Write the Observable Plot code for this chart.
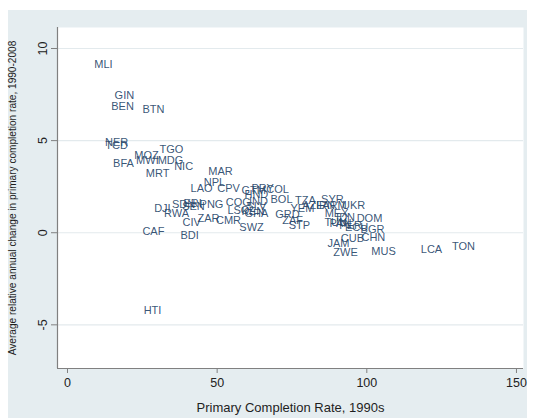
<!DOCTYPE html>
<html>
<head>
<meta charset="utf-8">
<script src="https://cdn.jsdelivr.net/npm/d3@7"></script>
<script src="https://cdn.jsdelivr.net/npm/@observablehq/plot@0.6"></script>
<style>
  html, body { margin: 0; padding: 0; background: #ffffff; }
  #wrap { position: relative; width: 534px; height: 418px; overflow: hidden; }
  #region { position: absolute; left: 8px; top: 10px; width: 519px; height: 408px; background: #e5edf0; }
  #chart { position: absolute; left: 0; top: 0; }
</style>
</head>
<body>
<div id="wrap">
  <div id="region"></div>
  <div id="chart"></div>
</div>
<script>
// Country codes with primary completion rate in the 1990s (x)
// and average relative annual change 1990-2008 (y)
const codes = [
  "MLI","GIN","BEN","BTN","NER","TCD","TGO","MOZ","MWI","MDG",
  "BFA","NIC","MRT","MAR","NPL","LAO","CPV","PRY","COL","GTM",
  "SLV","HND","BOL","COG","IND","LSO","GHA","KEN","SWZ","DJI",
  "RWA","SDN","ERI","SEN","PNG","CIV","ZAR","CMR","BDI","CAF",
  "GRD","ZAF","STP","TZA","YEM","AZE","SYR","IRN","ARM","UKR",
  "MEX","IDN","DOM","TUN","PAN","PER","ECU","BGR","CUB","CHN",
  "JAM","ZWE","MUS","LCA","TON","HTI"
];
const completion1990s = [
  12.0, 19.0, 18.4, 28.7, 16.4, 16.4, 34.7, 26.4, 26.7, 34.4,
  18.7, 38.8, 30.1, 51.1, 49.1, 44.8, 53.8, 65.2, 70.2, 62.2,
  63.1, 63.1, 71.5, 57.1, 63.8, 57.1, 63.1, 61.9, 61.5, 31.7,
  36.4, 38.8, 41.8, 42.1, 48.1, 41.5, 47.1, 53.8, 40.8, 28.7,
  73.5, 75.2, 77.5, 79.5, 78.5, 82.0, 88.5, 86.2, 89.2, 95.6,
  89.9, 92.9, 100.9, 89.6, 91.2, 94.6, 96.6, 101.9, 95.2, 102.2,
  90.5, 92.9, 105.6, 121.6, 132.3, 28.4
];
const annualChange = [
  9.13, 7.45, 6.85, 6.69, 4.90, 4.73, 4.52, 4.19, 3.92, 3.92,
  3.75, 3.59, 3.21, 3.32, 2.73, 2.40, 2.40, 2.40, 2.35, 2.29,
  1.42, 2.07, 1.80, 1.64, 1.69, 1.21, 1.04, 1.15, 0.28, 1.31,
  1.04, 1.53, 1.59, 1.42, 1.53, 0.55, 0.77, 0.66, -0.15, 0.07,
  0.99, 0.66, 0.39, 1.75, 1.31, 1.48, 1.80, 1.46, 1.46, 1.46,
  1.04, 0.83, 0.77, 0.56, 0.50, 0.39, 0.28, 0.17, -0.31, -0.26,
  -0.59, -1.07, -1.02, -0.91, -0.75, -4.23
];
const xTicks = [0, 50, 100, 150];
const yTicks = [-5, 0, 5, 10];
const xTitle = "Primary Completion Rate, 1990s";
const yTitle = "Average relative annual change in primary completion rate, 1990-2008";

const rows = codes.map((c, i) => ({code: c, x: completion1990s[i], y: annualChange[i]}));

const xDomain = [-3.34, 152.35];
const yDomain = [-7.37, 11.14];
const font = "'Liberation Sans', Arial, Helvetica, sans-serif";

const chart = Plot.plot({
  width: 534,
  height: 418,
  marginLeft: 57,
  marginRight: 11,
  marginTop: 27,
  marginBottom: 50,
  style: {background: "transparent", fontFamily: font, color: "#222"},
  x: {domain: xDomain},
  y: {domain: yDomain},
  marks: [
    Plot.frame({fill: "white", stroke: null}),
    Plot.gridY(yTicks, {stroke: "#e3eaed", strokeOpacity: 1, strokeWidth: 1.2}),
    Plot.ruleX([xDomain[0]], {stroke: "#808080", strokeWidth: 1.2}),
    Plot.ruleY([yDomain[0]], {stroke: "#808080", strokeWidth: 1.2}),
    Plot.axisX(xTicks, {tickSize: 5, tickPadding: 5, fontSize: 12.5, stroke: "#808080", fill: "#222", label: null, tickFormat: d => String(d)}),
    Plot.axisY(yTicks, {tickSize: 6, tickPadding: 5, tickRotate: -90, fontSize: 12.5, stroke: "#808080", fill: "#222", label: null, tickFormat: d => String(d)}),
    Plot.text([xTitle], {frameAnchor: "bottom", dy: 34, fontSize: 13, fill: "#1e1e1e", lineAnchor: "top"}),
    Plot.text([yTitle], {frameAnchor: "left", dx: -45, rotate: -90, textAnchor: "middle", fontSize: 10.1, fill: "#1e1e1e"}),
    Plot.text(rows, {x: "x", y: "y", text: "code", fontSize: 11, fill: "#27466a", fillOpacity: 0.92})
  ]
});
document.getElementById("chart").appendChild(chart);
</script>
</body>
</html>
